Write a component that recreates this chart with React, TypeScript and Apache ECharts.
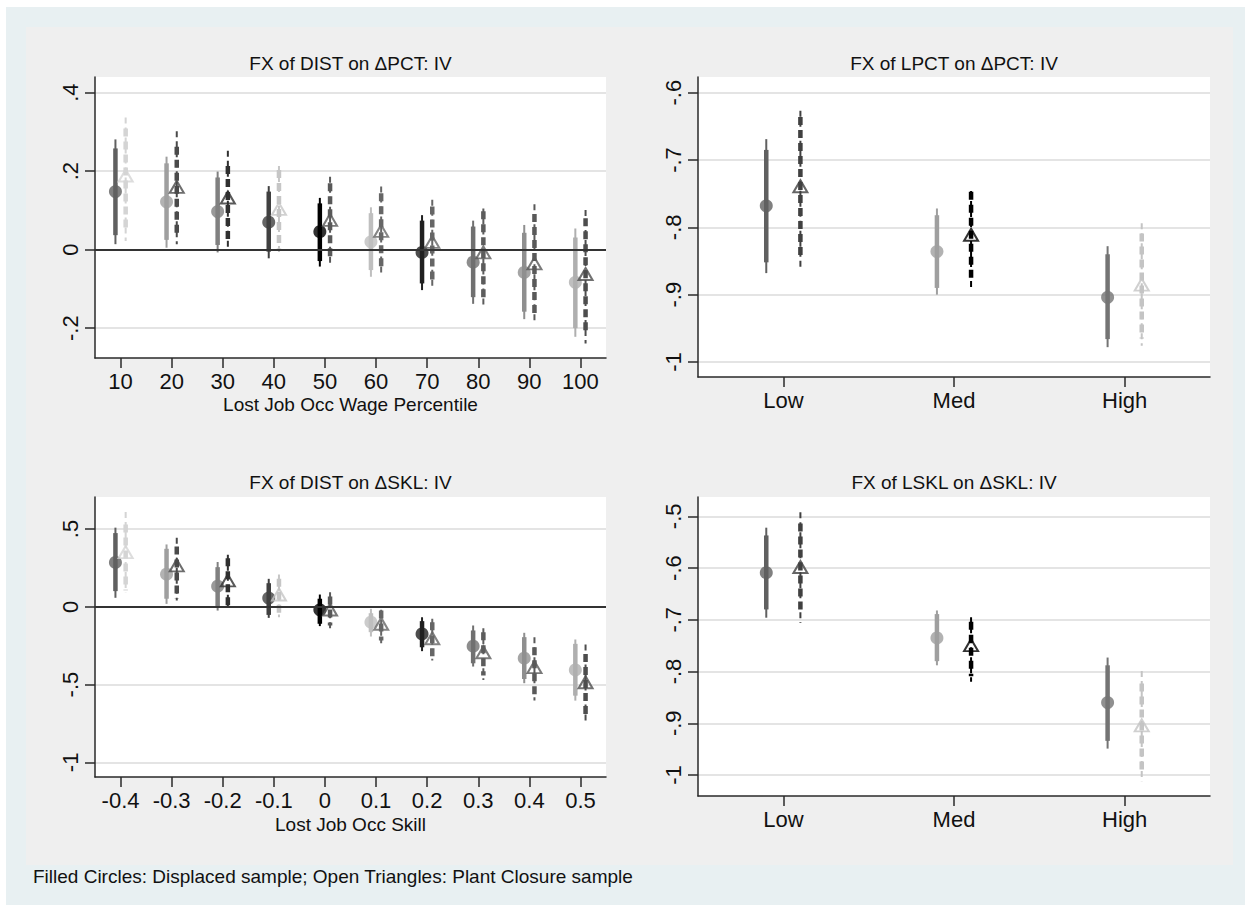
import React, { useEffect, useRef } from "react";
import * as echarts from "echarts";

// ---------- DATA ----------
// each point: [estimate, inner CI low, inner CI high, outer CI low, outer CI high]
const pctCategories = [10, 20, 30, 40, 50, 60, 70, 80, 90, 100];
const sklCategories = [-0.4, -0.3, -0.2, -0.1, 0, 0.1, 0.2, 0.3, 0.4, 0.5];
const levelCategories = ["Low", "Med", "High"];

const distPctDisplaced = [
  [0.148, 0.037, 0.258, 0.014, 0.281],
  [0.122, 0.025, 0.22, 0.005, 0.237],
  [0.097, 0.012, 0.184, -0.007, 0.199],
  [0.07, -0.005, 0.148, -0.022, 0.162],
  [0.046, -0.029, 0.118, -0.043, 0.132],
  [0.02, -0.052, 0.093, -0.069, 0.108],
  [-0.007, -0.086, 0.074, -0.103, 0.088],
  [-0.032, -0.121, 0.059, -0.138, 0.074],
  [-0.058, -0.158, 0.043, -0.177, 0.063],
  [-0.083, -0.2, 0.031, -0.222, 0.054],
];
const distPctClosure = [
  [0.189, 0.046, 0.309, 0.022, 0.337],
  [0.16, 0.037, 0.262, 0.014, 0.302],
  [0.133, 0.02, 0.213, 0.002, 0.252],
  [0.104, 0.003, 0.203, -0.014, 0.213],
  [0.076, -0.018, 0.169, -0.035, 0.186],
  [0.048, -0.043, 0.144, -0.065, 0.161],
  [0.02, -0.082, 0.11, -0.101, 0.127],
  [-0.007, -0.127, 0.098, -0.144, 0.105],
  [-0.035, -0.166, 0.091, -0.188, 0.116],
  [-0.062, -0.217, 0.08, -0.239, 0.101],
];
const lpctDisplaced = [
  [-0.768, -0.852, -0.685, -0.868, -0.669],
  [-0.836, -0.89, -0.782, -0.9, -0.772],
  [-0.904, -0.966, -0.84, -0.978, -0.828],
];
const lpctClosure = [
  [-0.739, -0.844, -0.636, -0.862, -0.627],
  [-0.811, -0.878, -0.747, -0.89, -0.746],
  [-0.885, -0.965, -0.809, -0.976, -0.794],
];
const distSklDisplaced = [
  [0.285, 0.101, 0.474, 0.058, 0.509],
  [0.21, 0.052, 0.373, 0.019, 0.401],
  [0.133, -0.002, 0.255, -0.024, 0.288],
  [0.056, -0.052, 0.152, -0.071, 0.18],
  [-0.019, -0.109, 0.052, -0.124, 0.079],
  [-0.099, -0.163, -0.041, -0.191, -0.013],
  [-0.174, -0.26, -0.092, -0.285, -0.067],
  [-0.253, -0.363, -0.152, -0.384, -0.12],
  [-0.33, -0.464, -0.195, -0.491, -0.167],
  [-0.406, -0.571, -0.238, -0.603, -0.21],
];
const distSklClosure = [
  [0.352, 0.105, 0.53, 0.094, 0.609],
  [0.266, 0.052, 0.388, 0.041, 0.444],
  [0.17, 0.009, 0.313, -0.006, 0.335],
  [0.079, -0.049, 0.18, -0.067, 0.208],
  [-0.017, -0.12, 0.067, -0.137, 0.094],
  [-0.109, -0.217, -0.024, -0.234, -0.019],
  [-0.202, -0.324, -0.099, -0.345, -0.077],
  [-0.292, -0.442, -0.163, -0.47, -0.137],
  [-0.388, -0.582, -0.26, -0.603, -0.195],
  [-0.485, -0.71, -0.303, -0.742, -0.242],
];
const lsklDisplaced = [
  [-0.609, -0.68, -0.537, -0.696, -0.522],
  [-0.735, -0.78, -0.689, -0.788, -0.682],
  [-0.86, -0.934, -0.788, -0.949, -0.773],
];
const lsklClosure = [
  [-0.598, -0.688, -0.514, -0.706, -0.492],
  [-0.749, -0.809, -0.704, -0.82, -0.695],
  [-0.904, -0.991, -0.823, -1.012, -0.799],
];

const ticksDistPct = [-0.2, 0, 0.2, 0.4];
const ticksLpct = [-1, -0.9, -0.8, -0.7, -0.6];
const ticksDistSkl = [-1, -0.5, 0, 0.5];
const ticksLskl = [-1, -0.9, -0.8, -0.7, -0.6, -0.5];

const titles = [
  "FX of DIST on \u0394PCT: IV",
  "FX of LPCT on \u0394PCT: IV",
  "FX of DIST on \u0394SKL: IV",
  "FX of LSKL on \u0394SKL: IV",
];
const xTitles = ["Lost Job Occ Wage Percentile", "Lost Job Occ Skill"];
const note = "Filled Circles: Displaced sample; Open Triangles: Plant Closure sample";

// ---------- STYLES ----------
const circleShades10 = ["#606060", "#9f9f9f", "#808080", "#404040", "#000000", "#bfbfbf", "#202020", "#707070", "#8f8f8f", "#afafaf"];
const triangleShades10 = ["#d4d4d4", "#4a4a4a", "#303030", "#c6c6c6", "#595959", "#666666", "#666666", "#5c5c5c", "#595959", "#4d4d4d"];
const circleShades3 = ["#606060", "#9f9f9f", "#747474"];
const triangleShades3 = ["#404040", "#000000", "#c4c4c4"];

const FONT = "'Liberation Sans', Arial, Helvetica, sans-serif";

const stataFmt = (v: number) => {
  if (Math.abs(v) < 1e-9) return "0";
  let s = String(Math.round(v * 1000) / 1000);
  s = s.replace(/^0\./, ".").replace(/^-0\./, "-.");
  return s;
};

const grids = [
  { left: 95, top: 77, width: 511, height: 281 },
  { left: 698, top: 77, width: 512, height: 300 },
  { left: 95, top: 497, width: 511, height: 280 },
  { left: 698, top: 497, width: 512, height: 299 },
];

function buildOption() {
  const axisLine = { show: true, onZero: false, lineStyle: { color: "#2a2a2a", width: 1.5 } };
  const axisTickBase = { show: true, length: 10, inside: false, lineStyle: { color: "#2a2a2a", width: 1.5 } };
  const labelBase = { fontSize: 22, color: "#111", fontFamily: FONT, hideOverlap: false };

  const xAxisDef = (gi: number, min: number, max: number, ticks: number[], fmt?: (v: number) => string) => ({
    gridIndex: gi,
    type: "value",
    min,
    max,
    axisLine,
    axisTick: { ...axisTickBase, customValues: ticks },
    axisLabel: { ...labelBase, customValues: ticks, margin: 12, formatter: fmt || ((v: number) => String(Math.round(v * 100) / 100)) },
    splitLine: { show: false },
  });
  const yAxisDef = (gi: number, min: number, max: number, ticks: number[]) => ({
    gridIndex: gi,
    type: "value",
    min,
    max,
    axisLine,
    axisTick: { ...axisTickBase, customValues: ticks },
    axisLabel: { ...labelBase, customValues: ticks, rotate: 90, margin: 14, formatter: stataFmt },
    splitLine: { show: true, lineStyle: { color: "#e4e4e4", width: 2 } },
  });

  const levelFmt = (v: number) => levelCategories[Math.round(v) - 1] || "";

  const xAxis = [
    xAxisDef(0, 5, 105, pctCategories),
    xAxisDef(1, 0.5, 3.5, [1, 2, 3], levelFmt),
    xAxisDef(2, -0.45, 0.55, sklCategories, (v) => String(Math.round(v * 10) / 10)),
    xAxisDef(3, 0.5, 3.5, [1, 2, 3], levelFmt),
  ];
  const yAxis = [
    yAxisDef(0, -0.276, 0.44, ticksDistPct),
    yAxisDef(1, -1.0223, -0.5767, ticksLpct),
    yAxisDef(2, -1.094, 0.706, ticksDistSkl),
    yAxisDef(3, -1.0406, -0.4627, ticksLskl),
  ];

  const series: any[] = [];

  const addPanel = (
    gi: number,
    xs: number[],
    offset: number,
    displaced: number[][],
    closure: number[][],
    cColors: string[],
    tColors: string[],
    zeroLine: boolean
  ) => {
    const mk = (rows: number[][], off: number) =>
      rows.map((r, i) => [xs[i] + off, r[0], r[1], r[2], r[3], r[4], i]);

    const ciSeries = (rows: number[][], off: number, colors: string[], dashed: boolean) => ({
      type: "custom",
      xAxisIndex: gi,
      yAxisIndex: gi,
      z: 3,
      silent: true,
      encode: { x: 0, y: 1 },
      data: mk(rows, off),
      renderItem: (params: any, api: any) => {
        const x = api.value(0);
        const color = colors[api.value(6)];
        const a95 = api.coord([x, api.value(5)]);
        const b95 = api.coord([x, api.value(4)]);
        const a90 = api.coord([x, api.value(3)]);
        const b90 = api.coord([x, api.value(2)]);
        return {
          type: "group",
          children: [
            {
              type: "line",
              shape: { x1: a95[0], y1: a95[1], x2: b95[0], y2: b95[1] },
              style: { stroke: color, lineWidth: 2, lineDash: dashed ? [6, 4] : null, lineCap: "butt" },
            },
            {
              type: "line",
              shape: { x1: a90[0], y1: a90[1], x2: b90[0], y2: b90[1] },
              style: { stroke: color, lineWidth: 4.5, lineDash: dashed ? [8, 5] : null, lineCap: "butt" },
            },
          ],
        };
      },
    });

    const circleSer: any = ciSeries(displaced, -offset, cColors, false);
    if (zeroLine) {
      circleSer.markLine = {
        silent: true,
        symbol: "none",
        label: { show: false },
        lineStyle: { color: "#333", width: 2, type: "solid" },
        data: [{ yAxis: 0 }],
      };
    }
    series.push(circleSer);
    series.push(ciSeries(closure, offset, tColors, true));

    series.push({
      type: "scatter",
      xAxisIndex: gi,
      yAxisIndex: gi,
      z: 4,
      silent: true,
      symbol: "circle",
      symbolSize: 13,
      data: displaced.map((r, i) => ({ value: [xs[i] - offset, r[0]], itemStyle: { color: cColors[i] } })),
    });
    series.push({
      type: "scatter",
      xAxisIndex: gi,
      yAxisIndex: gi,
      z: 4,
      silent: true,
      symbol: "triangle",
      symbolSize: [14, 12],
      data: closure.map((r, i) => ({
        value: [xs[i] + offset, r[0]],
        itemStyle: { color: "rgba(0,0,0,0)", borderColor: tColors[i], borderWidth: 2 },
      })),
    });
  };

  addPanel(0, pctCategories, 1, distPctDisplaced, distPctClosure, circleShades10, triangleShades10, true);
  addPanel(1, [1, 2, 3], 0.1, lpctDisplaced, lpctClosure, circleShades3, triangleShades3, false);
  addPanel(2, sklCategories, 0.01, distSklDisplaced, distSklClosure, circleShades10, triangleShades10, true);
  addPanel(3, [1, 2, 3], 0.1, lsklDisplaced, lsklClosure, circleShades3, triangleShades3, false);

  const txt = (x: number, y: number, text: string, size: number, align = "center") => ({
    type: "text",
    x,
    y,
    z: 10,
    silent: true,
    style: { text, fill: "#111", fontSize: size, fontFamily: FONT, textAlign: align, textVerticalAlign: "middle" },
  });

  const graphic = [
    { type: "rect", z: -20, silent: true, shape: { x: 6, y: 7, width: 1239, height: 898 }, style: { fill: "#e8f0f2" } },
    { type: "rect", z: -19, silent: true, shape: { x: 26, y: 27, width: 1207, height: 838 }, style: { fill: "#efefef" } },
    txt(350.5, 63, titles[0], 19),
    txt(954, 63, titles[1], 19),
    txt(350.5, 482, titles[2], 19),
    txt(954, 482, titles[3], 19),
    txt(350.5, 404, xTitles[0], 19),
    txt(350.5, 824, xTitles[1], 19),
    txt(33, 876, note, 19, "left"),
  ];

  return {
    animation: false,
    backgroundColor: "#ffffff",
    grid: grids.map((g) => ({ ...g, show: true, backgroundColor: "#ffffff", borderWidth: 0, containLabel: false })),
    xAxis,
    yAxis,
    series,
    graphic,
  };
}

export default function App() {
  const ref = useRef<HTMLDivElement>(null);
  useEffect(() => {
    const chart = echarts.init(ref.current as HTMLDivElement, null, { renderer: "svg" });
    chart.setOption(buildOption() as any);
    return () => chart.dispose();
  }, []);
  return <div ref={ref} style={{ position: "fixed", left: 0, top: 0, width: 1251, height: 911 }} />;
}
